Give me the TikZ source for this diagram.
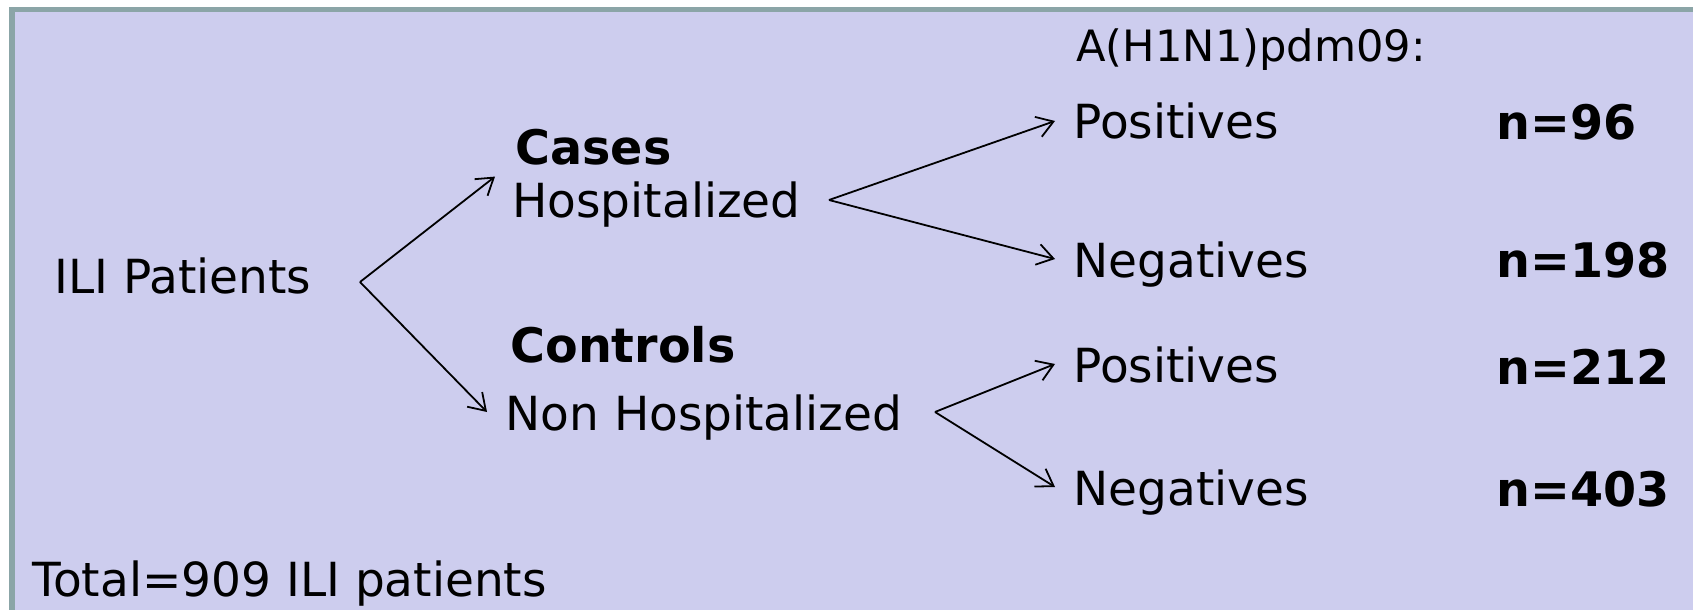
\documentclass[tikz,border=0pt]{standalone}
\usepackage{fontspec}
\setmainfont{DejaVu Sans}
\usetikzlibrary{arrows.meta}
\definecolor{boxfill}{HTML}{CDCDEE}
\definecolor{boxline}{HTML}{8BA5A7}

\begin{document}
\begin{tikzpicture}[x=0.5pt, y=-0.5pt,
		lbl/.style={anchor=base west, inner sep=0pt, text height=18pt, text depth=0pt, font=\fontsize{23.5}{28}\selectfont},
		virus/.style={lbl, font=\fontsize{21.6}{25}\selectfont},
		count/.style={lbl, font=\fontsize{23.8}{28}\selectfont\bfseries},
		arr/.style={-{Straight Barb[length=8pt,width=10.5pt]}, line width=0.9pt}
	]
		\useasboundingbox (0,0) rectangle (1693,610);
		\clip (0,0) rectangle (1693,610);
		\fill[white] (0,0) rectangle (1693,610);
		\draw[boxline, fill=boxfill, line width=2.75pt] (12,9.5) rectangle (1720,640);

		\node[lbl] (ili) at (54,293) {ILI Patients};
		\coordinate (ilifork) at (360,282);

		\node[count] (cases) at (515,165) {Cases};
		\node[lbl] (hosp) at (512,218) {Hospitalized};
		\coordinate (hospfork) at (829,200);

		\node[count] (controls) at (510,362) {Controls};
		\node[lbl] (nonhosp) at (505,430) {Non Hospitalized};
		\coordinate (nonhospfork) at (935,412);

		\node[virus] (h1n1) at (1076,62) {A(H1N1)pdm09:};

		\node[lbl] (pos1) at (1073,139) {Positives};
		\node[lbl] (neg1) at (1073,277) {Negatives};
		\node[lbl] (pos2) at (1073,382) {Positives};
		\node[lbl] (neg2) at (1073,505) {Negatives};

		\node[count] (n1) at (1496,140) {n=96};
		\node[count] (n2) at (1496,278) {n=198};
		\node[count] (n3) at (1496,384) {n=212};
		\node[count] (n4) at (1496,506) {n=403};

		\node[lbl] (total) at (32,596) {Total=909 ILI patients};

		% arrows
		\draw[arr] (ilifork) -- ([xshift=-8.5pt,yshift=2.5pt]hosp.north west);
		\draw[arr] (ilifork) -- ([xshift=-9pt]nonhosp.west);
		\draw[arr] (hospfork) -- ([xshift=-9pt]pos1.west);
		\draw[arr] (hospfork) -- ([xshift=-9pt]neg1.west);
		\draw[arr] (nonhospfork) -- ([xshift=-9pt]pos2.west);
		\draw[arr] (nonhospfork) -- ([xshift=-9pt]neg2.west);
	\end{tikzpicture}
\end{document}
